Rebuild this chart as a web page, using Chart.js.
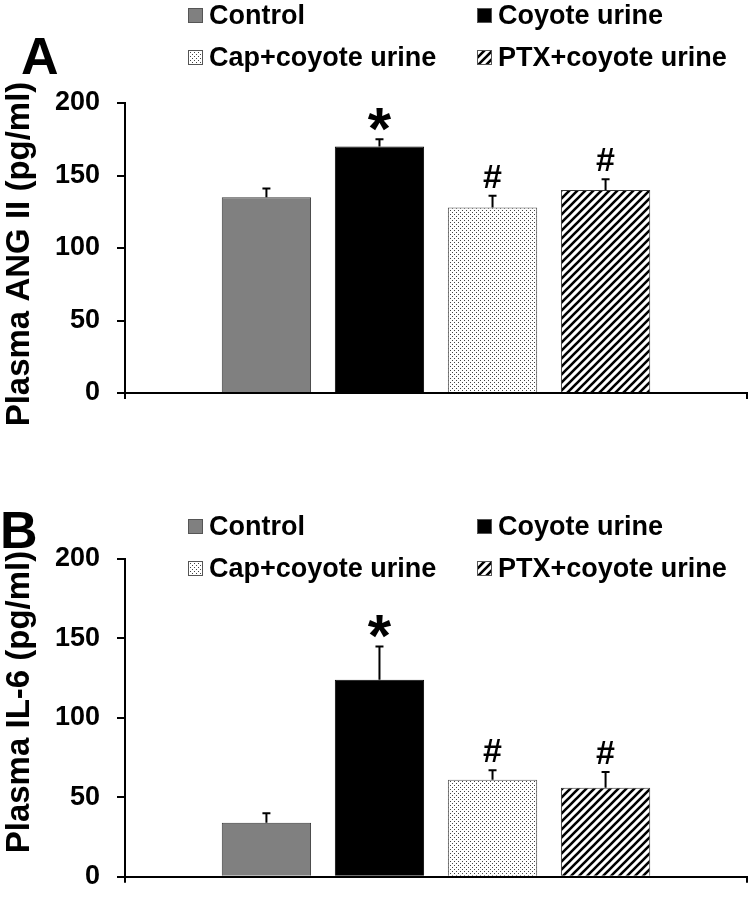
<!DOCTYPE html>
<html>
<head>
<meta charset="utf-8">
<script src="https://cdn.jsdelivr.net/npm/chart.js@4.4.1/dist/chart.umd.min.js"></script>
<style>
body{margin:0;background:#fff;}
#wrap{position:relative;width:749px;height:910px;font-family:"Liberation Sans",Arial,sans-serif;font-weight:bold;color:#000;}
.panel{position:absolute;left:0;width:749px;height:455px;}
.huruf{position:absolute;font-size:52px;line-height:1;}
.leg{position:absolute;display:flex;align-items:center;height:27px;font-size:27px;line-height:1;white-space:nowrap;}
.leg canvas{margin-right:6px;}
</style>
</head>
<body>
<div id="wrap">
  <canvas id="grafikA" class="panel" width="749" height="455" style="top:0"></canvas>
  <canvas id="grafikB" class="panel" width="749" height="455" style="top:455px"></canvas>
  <div class="huruf" style="left:21px;top:30px">A</div>
  <div class="huruf" style="left:0px;top:504px">B</div>
  <div id="legendA"></div>
  <div id="legendB"></div>
</div>
<script>
// kelompok perlakuan
const kelompok = ['Control', 'Coyote urine', 'Cap+coyote urine', 'PTX+coyote urine'];

// Panel A - Plasma ANG II
const angMean = [135, 170, 128, 140];
const angSem = [6, 5, 8, 7.5];

// Panel B - Plasma IL-6
const il6Mean = [34, 124, 61, 56];
const il6Sem = [6, 21, 6, 10];

const tanda = ['', '*', '#', '#'];
const yTicks = [0, 50, 100, 150, 200];

const FONT = '"Liberation Sans", Arial, sans-serif';

function polaTitik(ctx){
    let c = document.createElement('canvas');
    c.width = 4; c.height = 4;
    let g = c.getContext('2d');
    g.fillStyle = '#fff'; g.fillRect(0,0,4,4);
    g.fillStyle = '#444';
    g.fillRect(0,0,1,1); g.fillRect(2,2,1,1);
    return ctx.createPattern(c, 'repeat');
}

function polaGaris(ctx){
    let s = 8;
    let c = document.createElement('canvas');
    c.width = s; c.height = s;
    let g = c.getContext('2d');
    g.fillStyle = '#fff'; g.fillRect(0,0,s,s);
    g.strokeStyle = '#000'; g.lineWidth = 2.6;
    g.beginPath();
    g.moveTo(0, s); g.lineTo(s, 0);
    g.moveTo(-2, 2); g.lineTo(2, -2);
    g.moveTo(s-2, s+2); g.lineTo(s+2, s-2);
    g.stroke();
    return ctx.createPattern(c, 'repeat');
}

function isian(ctx){
    return ['#808080', '#000000', polaTitik(ctx), polaGaris(ctx)];
}
const tepi = ['#3a3a3a', '#000000', '#555555', '#333333'];

// error bar + tanda signifikansi
const pluginGalat = {
    id: 'galat',
    afterDatasetsDraw(chart){
        const g = chart.ctx;
        const sy = chart.scales.y;
        chart.data.datasets.forEach((ds, i) => {
            const bar = chart.getDatasetMeta(i).data[0];
            const yAtas = sy.getPixelForValue(ds.data[0] + ds.galat);
            g.save();
            g.strokeStyle = '#000';
            g.lineWidth = 2;
            g.beginPath();
            g.moveTo(bar.x, bar.y);
            g.lineTo(bar.x, yAtas);
            g.moveTo(bar.x - 4, yAtas);
            g.lineTo(bar.x + 4, yAtas);
            g.stroke();
            if (ds.tanda) {
                let ukuran = ds.tanda == '*' ? 60 : 34;
                g.font = 'bold ' + ukuran + 'px ' + FONT;
                g.fillStyle = '#000';
                g.textAlign = 'center';
                g.textBaseline = 'alphabetic';
                let m = g.measureText(ds.tanda);
                g.fillText(ds.tanda, bar.x, yAtas - 8 - m.actualBoundingBoxDescent);
            }
            g.restore();
        });
    }
};

// judul sumbu y digambar sendiri supaya posisinya bisa digeser
const pluginJudul = {
    id: 'judulY',
    afterDraw(chart, args, opts){
        const g = chart.ctx;
        g.save();
        g.translate(20, opts.tengah);
        g.rotate(-Math.PI / 2);
        g.font = 'bold 33px ' + FONT;
        g.fillStyle = '#000';
        g.textAlign = 'center';
        g.textBaseline = 'middle';
        g.fillText(opts.teks, 0, 0);
        g.restore();
    }
};

function buatPanel(id, judul, tengahJudul, nilai, galat, padAtas, padBawah){
    const el = document.getElementById(id);
    const ctx = el.getContext('2d');
    const warna = isian(ctx);
    return new Chart(el, {
        type: 'bar',
        data: {
            labels: [''],
            datasets: kelompok.map((k, i) => ({
                label: k,
                data: [nilai[i]],
                galat: galat[i],
                tanda: tanda[i],
                backgroundColor: warna[i],
                borderColor: tepi[i],
                borderWidth: 1
            }))
        },
        options: {
            responsive: false,
            animation: false,
            devicePixelRatio: 1,
            layout: {padding: {top: padAtas, bottom: padBawah, left: 0, right: 2}},
            datasets: {bar: {categoryPercentage: 0.727, barPercentage: 0.79}},
            plugins: {
                legend: {display: false},
                tooltip: {enabled: false},
                judulY: {teks: judul, tengah: tengahJudul}
            },
            scales: {
                x: {
                    grid: {drawOnChartArea: false, tickLength: 6, color: '#000', lineWidth: 2},
                    border: {color: '#000', width: 2},
                    ticks: {display: false},
                    afterFit: s => { s.height = 20; }
                },
                y: {
                    min: yTicks[0],
                    max: yTicks[yTicks.length - 1],
                    afterBuildTicks: s => { s.ticks = yTicks.map(v => ({value: v})); },
                    ticks: {color: '#000', padding: 17, font: {family: FONT, size: 27, weight: 'bold'}},
                    grid: {drawOnChartArea: false, tickLength: 8, color: '#000', lineWidth: 2},
                    border: {color: '#000', width: 2},
                    afterFit: s => { s.width = 125; }
                }
            }
        },
        plugins: [pluginGalat, pluginJudul]
    });
}

function buatLegend(id, barisAtas){
    const wadah = document.getElementById(id);
    const kolom = [188, 477];
    const baris = [barisAtas, barisAtas + 42];
    kelompok.forEach((k, i) => {
        let d = document.createElement('div');
        d.className = 'leg';
        d.style.left = kolom[i % 2] + 'px';
        d.style.top = (baris[Math.floor(i / 2)] - 13.5) + 'px';
        let kotak = document.createElement('canvas');
        kotak.width = 15; kotak.height = 15;
        let g = kotak.getContext('2d');
        g.fillStyle = isian(g)[i];
        g.fillRect(0, 0, 15, 15);
        g.strokeStyle = '#555';
        g.lineWidth = 1;
        g.strokeRect(0.5, 0.5, 14, 14);
        d.appendChild(kotak);
        d.appendChild(document.createTextNode(k));
        wadah.appendChild(d);
    });
}

buatPanel('grafikA', 'Plasma ANG II (pg/ml)', 254, angMean, angSem, 103, 42);
buatPanel('grafikB', 'Plasma IL-6 (pg/ml)', 247, il6Mean, il6Sem, 104, 3);
buatLegend('legendA', 15);
buatLegend('legendB', 526);
</script>
</body>
</html>
